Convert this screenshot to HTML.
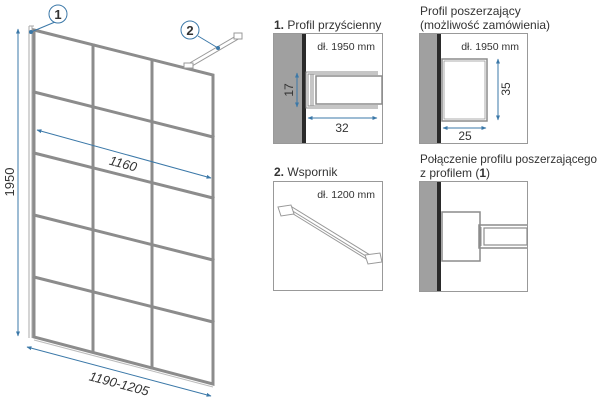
<!DOCTYPE html>
<html><head><meta charset="utf-8"><style>
body{margin:0;background:#fff}
svg{display:block;font-family:"Liberation Sans","DejaVu Sans",sans-serif}
</style></head><body>
<svg width="600" height="406" viewBox="0 0 600 406" xmlns="http://www.w3.org/2000/svg">
<defs>
<marker id="a" viewBox="0 0 10 10" refX="9" refY="5" markerWidth="5" markerHeight="5" orient="auto-start-reverse"><path d="M0,1 L10,5 L0,9z" fill="#3b78a8"/></marker>
</defs>
<g stroke="#aaa" stroke-width="1" fill="none">
<line x1="29" y1="26" x2="29" y2="338"/><line x1="32" y1="26" x2="32" y2="338"/>
<line x1="29" y1="26" x2="34" y2="26"/>
</g>
<g stroke="#8c8c8c" stroke-width="3" fill="none" stroke-linecap="square">
<polygon points="34,30 213,75 213,384 34,337"/>
<line x1="93" y1="45" x2="93" y2="352"/>
<line x1="152" y1="60" x2="152" y2="368"/>
<line x1="34" y1="92" x2="213" y2="137"/>
<line x1="34" y1="153" x2="213" y2="198"/>
<line x1="34" y1="215" x2="213" y2="260"/>
<line x1="34" y1="277" x2="213" y2="322"/>
</g>
<line x1="34" y1="340" x2="213" y2="387" stroke="#bbb" stroke-width="1"/>
<g stroke="#999" stroke-width="1" fill="#fff">
<polygon points="188,64 236,36 240,38 192,66"/>
<rect x="184" y="63" width="9" height="5"/>
<rect x="234" y="33" width="8" height="6"/>
</g>
<g stroke="#3b78a8" stroke-width="1" fill="#fff">
<line x1="55" y1="22" x2="31" y2="32"/>
<line x1="198" y1="36" x2="218" y2="48"/>
<circle cx="31" cy="32" r="1.5" fill="#3b78a8"/>
<circle cx="218" cy="48" r="1.5" fill="#3b78a8"/>
<circle cx="58" cy="14" r="9"/>
<circle cx="190" cy="30" r="9"/>
</g>
<text x="58" y="19" font-size="13" font-weight="bold" text-anchor="middle" fill="#333">1</text>
<text x="190" y="35" font-size="13" font-weight="bold" text-anchor="middle" fill="#333">2</text>
<g stroke="#3b78a8" stroke-width="1" fill="none">
<line x1="18" y1="29" x2="18" y2="336" marker-start="url(#a)" marker-end="url(#a)"/>
<line x1="37" y1="130" x2="211" y2="178" marker-start="url(#a)" marker-end="url(#a)"/>
<line x1="27" y1="347" x2="211" y2="396" marker-start="url(#a)" marker-end="url(#a)"/>
</g>
<text transform="translate(14,182) rotate(-90)" font-size="13" text-anchor="middle" fill="#333">1950</text>
<text transform="translate(122,168) rotate(15)" font-size="13" font-style="italic" text-anchor="middle" fill="#333">1160</text>
<text transform="translate(118,388) rotate(15)" font-size="13" font-style="italic" text-anchor="middle" fill="#333">1190-1205</text>

<text x="274" y="29" font-size="12" fill="#333"><tspan font-weight="bold">1.</tspan> Profil przyścienny</text>
<rect x="273.5" y="33.5" width="109" height="110" fill="#fff" stroke="#999"/>
<rect x="274" y="34" width="28" height="109" fill="#a0a0a0"/>
<rect x="302" y="34" width="4" height="109" fill="#2a2a2a"/>
<text x="375" y="50" font-size="10.5" text-anchor="end" fill="#333">dł. 1950 mm</text>
<g stroke="#8c8c8c" fill="none" stroke-width="1">
<path d="M378,72 H306 V108 H378"/><path d="M378,74 H308 V106 H378"/>
<line x1="311" y1="74" x2="311" y2="106"/><line x1="313" y1="74" x2="313" y2="106"/>
<rect x="316" y="76" width="66" height="28" stroke-width="1.5"/>
</g>
<g stroke="#3b78a8" stroke-width="1"><line x1="297" y1="73" x2="297" y2="107" marker-start="url(#a)" marker-end="url(#a)"/>
<line x1="308" y1="118" x2="377" y2="118" marker-start="url(#a)" marker-end="url(#a)"/></g>
<text transform="translate(293,90) rotate(-90)" font-size="12" text-anchor="middle" fill="#333">17</text>
<text x="342" y="132" font-size="12" text-anchor="middle" fill="#333">32</text>

<text x="420" y="15" font-size="12" fill="#333">Profil poszerzający</text>
<text x="420" y="29" font-size="12" fill="#333">(możliwość zamówienia)</text>
<rect x="419.5" y="33.5" width="108" height="110" fill="#fff" stroke="#999"/>
<rect x="420" y="34" width="17" height="109" fill="#a0a0a0"/>
<rect x="437" y="34" width="4" height="109" fill="#2a2a2a"/>
<text x="519" y="50" font-size="10.5" text-anchor="end" fill="#333">dł. 1950 mm</text>
<g stroke="#8c8c8c" fill="none"><rect x="442" y="59" width="45" height="62" stroke-width="1.5"/><rect x="444" y="61" width="41" height="58" stroke-width="0.7"/></g>
<g stroke="#3b78a8" stroke-width="1"><line x1="498" y1="59" x2="498" y2="120" marker-start="url(#a)" marker-end="url(#a)"/>
<line x1="443" y1="128" x2="486" y2="128" marker-start="url(#a)" marker-end="url(#a)"/></g>
<text transform="translate(510,89) rotate(-90)" font-size="12" text-anchor="middle" fill="#333">35</text>
<text x="465" y="140" font-size="12" text-anchor="middle" fill="#333">25</text>

<text x="274" y="176" font-size="12" fill="#333"><tspan font-weight="bold">2.</tspan> Wspornik</text>
<rect x="273.5" y="181.5" width="109" height="109" fill="#fff" stroke="#999"/>
<text x="375" y="198" font-size="10.5" text-anchor="end" fill="#333">dł. 1200 mm</text>
<g stroke="#999" fill="#fff" stroke-width="1">
<polygon points="290,212 368,260 370,255 292,207"/>
<line x1="291" y1="210" x2="369" y2="258"/>
<polygon points="278,207 291,205 294,214 281,216"/>
<polygon points="365,255 380,253 382,262 368,264"/>
</g>

<text x="420" y="163" font-size="12" fill="#333" textLength="177" lengthAdjust="spacingAndGlyphs">Połączenie profilu poszerzającego</text>
<text x="420" y="177" font-size="12" fill="#333">z profilem (<tspan font-weight="bold">1</tspan>)</text>
<rect x="419.5" y="181.5" width="108" height="110" fill="#fff" stroke="#999"/>
<rect x="420" y="182" width="17" height="109" fill="#a0a0a0"/>
<rect x="437" y="182" width="4" height="109" fill="#2a2a2a"/>
<g stroke="#8c8c8c" fill="none">
<rect x="442" y="212" width="38" height="49" stroke-width="1.5"/>
<path d="M527,225 H479 V248 H527" stroke-width="1.5"/>
<line x1="481" y1="227" x2="481" y2="246"/>
<rect x="484" y="228" width="43" height="17" stroke-width="1.2"/>
</g>
</svg>
</body></html>
